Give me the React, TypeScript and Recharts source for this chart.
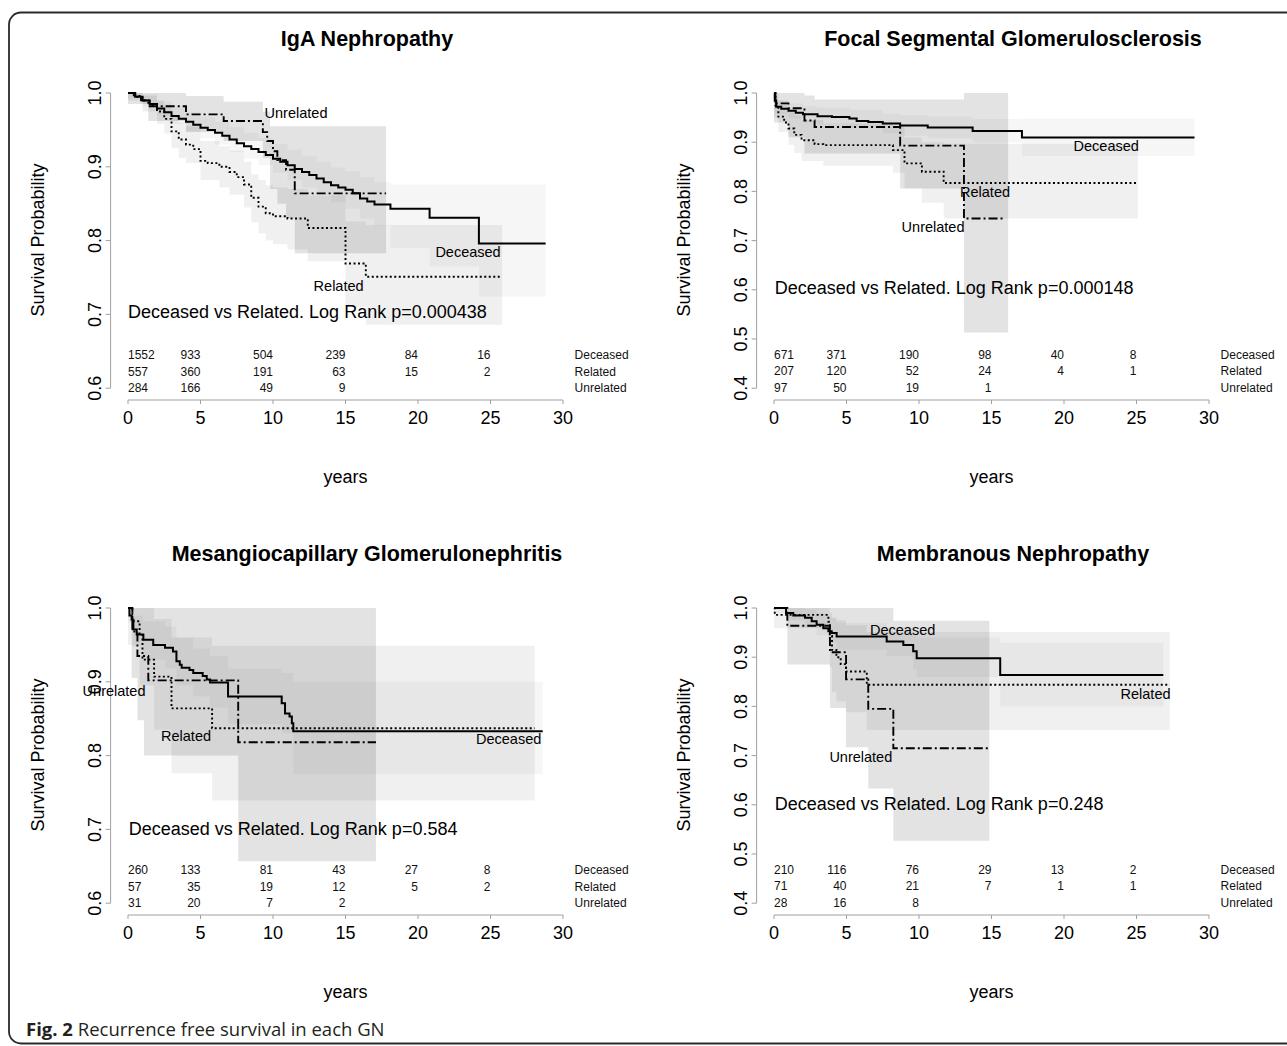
import React from 'react';
import { ComposedChart, Line, Area, XAxis, YAxis, ReferenceLine, ReferenceDot } from 'recharts';

const FONT = '"Liberation Sans", Arial, Helvetica, sans-serif';
const CAPTION_FONT = '"Open Sans", "Noto Sans", sans-serif';

// ---------- shared axis / table values ----------
const yearTicks = [0, 5, 10, 15, 20, 25, 30];
const riskTimes = [0, 5, 10, 15, 20, 25];
const groupNames = ['Deceased', 'Related', 'Unrelated'];
const yTicksNarrow = [0.6, 0.7, 0.8, 0.9, 1.0];
const yTicksWide = [0.4, 0.5, 0.6, 0.7, 0.8, 0.9, 1.0];
const yDomainNarrow: [number, number] = [0.584, 1.016];
const yDomainWide: [number, number] = [0.376, 1.024];
const rowYNarrow = [0.645, 0.6226, 0.6003];
const rowYWide = [0.4675, 0.434, 0.4004];

type Pt = [number, number];
type Bd = [number, number, number];

// ---------- IgA Nephropathy ----------
const igaDeceased: Pt[] = [
  [0, 1.0], [0.5, 0.995], [1, 0.99], [1.5, 0.985], [2, 0.979], [2.5, 0.974], [3, 0.969], [3.5, 0.965],
  [4, 0.961], [4.5, 0.957], [5, 0.953], [5.5, 0.95], [6, 0.946], [6.5, 0.942], [7, 0.937], [7.5, 0.932],
  [8, 0.928], [8.5, 0.924], [9, 0.92], [9.5, 0.916], [10, 0.911], [10.5, 0.907], [11, 0.902], [11.5, 0.897],
  [12, 0.893], [12.5, 0.889], [13, 0.884], [13.5, 0.879], [14, 0.875], [14.5, 0.872], [15, 0.869],
  [15.5, 0.864], [16, 0.857], [16.5, 0.853], [17, 0.849], [18.1, 0.843], [20.8, 0.831], [24.2, 0.796], [28.8, 0.796],
];
const igaRelated: Pt[] = [
  [0, 1.0], [0.5, 0.996], [1, 0.99], [1.5, 0.983], [2, 0.975], [2.5, 0.965], [3, 0.948], [3.5, 0.937],
  [4, 0.93], [4.5, 0.924], [5, 0.908], [5.5, 0.905], [6.3, 0.9], [7, 0.893], [7.5, 0.886], [8, 0.876],
  [8.5, 0.858], [9, 0.846], [9.5, 0.837], [10, 0.833], [11, 0.83], [12.4, 0.817], [15.0, 0.769], [16.4, 0.751], [25.8, 0.751],
];
const igaUnrelated: Pt[] = [
  [0, 1.0], [0.4, 0.995], [0.9, 0.99], [1.4, 0.982], [4.0, 0.971], [6.6, 0.962], [9.3, 0.947], [9.6, 0.935],
  [10.0, 0.921], [10.3, 0.909], [10.9, 0.896], [11.5, 0.864], [17.8, 0.864],
];
const igaDeceasedBand: Bd[] = [
  [0, 0.993, 1.0], [1, 0.982, 0.996], [2, 0.97, 0.989], [3, 0.958, 0.981], [4, 0.948, 0.974], [5, 0.939, 0.967],
  [6, 0.93, 0.961], [7, 0.92, 0.954], [8, 0.911, 0.946], [9, 0.902, 0.939], [10, 0.892, 0.931], [11, 0.882, 0.923],
  [12, 0.872, 0.915], [13, 0.862, 0.907], [14, 0.852, 0.899], [15, 0.843, 0.894], [16, 0.83, 0.886],
  [17, 0.82, 0.879], [18.1, 0.79, 0.876], [20.8, 0.765, 0.876], [24.2, 0.724, 0.876], [28.8, 0.724, 0.876],
];
const igaRelatedBand: Bd[] = [
  [0, 0.99, 1.0], [1, 0.975, 0.998], [2, 0.958, 0.99], [2.5, 0.945, 0.984], [3, 0.925, 0.968], [3.5, 0.912, 0.96],
  [4, 0.905, 0.955], [5, 0.882, 0.935], [6.3, 0.872, 0.928], [7, 0.862, 0.922], [8, 0.845, 0.907], [8.5, 0.825, 0.89],
  [9, 0.81, 0.882], [9.5, 0.8, 0.875], [10, 0.795, 0.872], [11, 0.788, 0.87], [12.4, 0.772, 0.861],
  [15.0, 0.71, 0.826], [16.4, 0.686, 0.821], [25.8, 0.686, 0.821],
];
const igaUnrelatedBand: Bd[] = [
  [0, 0.985, 1.0], [1.4, 0.962, 1.0], [4.0, 0.947, 0.996], [6.6, 0.935, 0.988], [9.3, 0.912, 0.975],
  [9.8, 0.87, 0.955], [10.3, 0.85, 0.955], [10.9, 0.83, 0.955], [11.5, 0.783, 0.955], [17.8, 0.783, 0.955],
];
const igaRiskDeceased = [1552, 933, 504, 239, 84, 16];
const igaRiskRelated = [557, 360, 191, 63, 15, 2];
const igaRiskUnrelated = [284, 166, 49, 9];

// ---------- Focal Segmental Glomerulosclerosis ----------
const fsgsDeceased: Pt[] = [
  [0, 1.0], [0.05, 0.985], [0.15, 0.972], [0.5, 0.968], [1, 0.964], [1.5, 0.96], [2, 0.957], [3, 0.953],
  [4, 0.951], [5.2, 0.948], [5.7, 0.943], [6.5, 0.941], [7.5, 0.938], [8.7, 0.934], [10.6, 0.93],
  [13.7, 0.923], [17.1, 0.9095], [29.0, 0.9095],
];
const fsgsRelated: Pt[] = [
  [0, 1.0], [0.1, 0.975], [0.3, 0.952], [0.7, 0.94], [1.0, 0.928], [1.4, 0.915], [1.9, 0.904], [2.8, 0.896],
  [3.4, 0.894], [8.2, 0.884], [9.0, 0.857], [10.2, 0.84], [11.7, 0.817], [25.1, 0.817],
];
const fsgsUnrelated: Pt[] = [
  [0, 1.0], [0.1, 0.979], [1.0, 0.969], [2.1, 0.944], [2.8, 0.931], [8.7, 0.893], [13.1, 0.745], [15.95, 0.745],
];
const fsgsDeceasedBand: Bd[] = [
  [0, 0.96, 1.0], [0.15, 0.958, 0.985], [1, 0.948, 0.979], [2, 0.94, 0.973], [3, 0.936, 0.97], [5.2, 0.93, 0.966],
  [7.5, 0.918, 0.958], [8.7, 0.913, 0.955], [10.6, 0.908, 0.952], [13.7, 0.9, 0.947], [17.1, 0.872, 0.948], [29.0, 0.872, 0.948],
];
const fsgsRelatedBand: Bd[] = [
  [0, 0.95, 1.0], [0.3, 0.92, 0.985], [1.0, 0.895, 0.965], [1.4, 0.878, 0.955], [1.9, 0.862, 0.945],
  [3.4, 0.852, 0.938], [8.2, 0.838, 0.933], [9.0, 0.806, 0.91], [10.2, 0.777, 0.9], [11.7, 0.745, 0.897], [25.1, 0.745, 0.897],
];
const fsgsUnrelatedBand: Bd[] = [
  [0, 0.94, 1.0], [1.0, 0.91, 1.0], [2.1, 0.877, 0.995], [2.8, 0.877, 0.987], [8.7, 0.806, 0.987],
  [13.1, 0.513, 1.0], [16.15, 0.513, 1.0],
];
const fsgsRiskDeceased = [671, 371, 190, 98, 40, 8];
const fsgsRiskRelated = [207, 120, 52, 24, 4, 1];
const fsgsRiskUnrelated = [97, 50, 19, 1];

// ---------- Mesangiocapillary Glomerulonephritis ----------
const mpgnDeceased: Pt[] = [
  [0, 1.0], [0.1, 0.99], [0.25, 0.984], [0.37, 0.971], [0.6, 0.964], [1.06, 0.957], [1.74, 0.95], [2.55, 0.946],
  [3.1, 0.941], [3.34, 0.928], [3.57, 0.923], [3.7, 0.919], [4.24, 0.916], [4.5, 0.912], [5.15, 0.908],
  [5.43, 0.903], [5.66, 0.899], [6.9, 0.88], [10.6, 0.871], [10.83, 0.857], [11.14, 0.853], [11.3, 0.844],
  [11.4, 0.833], [28.6, 0.833],
];
const mpgnRelated: Pt[] = [
  [0, 1.0], [0.3, 0.982], [0.8, 0.965], [1.0, 0.93], [1.8, 0.907], [3.0, 0.864], [5.8, 0.837], [28.05, 0.837],
];
const mpgnUnrelated: Pt[] = [
  [0, 1.0], [0.3, 0.968], [0.65, 0.935], [1.4, 0.902], [7.6, 0.818], [17.1, 0.818],
];
const mpgnDeceasedBand: Bd[] = [
  [0, 0.98, 1.0], [0.37, 0.95, 0.99], [1.06, 0.93, 0.982], [2.55, 0.918, 0.975], [3.34, 0.895, 0.96],
  [4.5, 0.88, 0.945], [5.66, 0.865, 0.935], [6.9, 0.842, 0.918], [10.6, 0.83, 0.912], [11.4, 0.775, 0.9], [28.6, 0.775, 0.9],
];
const mpgnRelatedBand: Bd[] = [
  [0, 0.95, 1.0], [0.3, 0.948, 1.0], [0.8, 0.895, 1.0], [1.8, 0.835, 0.985], [3.0, 0.776, 0.96],
  [5.8, 0.739, 0.949], [28.05, 0.739, 0.949],
];
const mpgnUnrelatedBand: Bd[] = [
  [0.25, 0.905, 1.0], [0.65, 0.848, 1.0], [1.1, 0.8, 1.0], [7.6, 0.657, 1.0], [17.1, 0.657, 1.0],
];
const mpgnRiskDeceased = [260, 133, 81, 43, 27, 8];
const mpgnRiskRelated = [57, 35, 19, 12, 5, 2];
const mpgnRiskUnrelated = [31, 20, 7, 2];

// ---------- Membranous Nephropathy ----------
const mnDeceased: Pt[] = [
  [0, 1.0], [0.83, 0.99], [1.33, 0.985], [2.14, 0.98], [2.6, 0.973], [2.94, 0.966], [3.4, 0.959], [3.75, 0.953],
  [3.98, 0.949], [4.32, 0.942], [7.77, 0.932], [8.92, 0.925], [9.6, 0.912], [9.84, 0.898], [15.6, 0.864], [26.85, 0.864],
];
const mnRelated: Pt[] = [
  [0, 1.0], [0.05, 0.986], [3.75, 0.972], [3.85, 0.943], [4.0, 0.915], [4.3, 0.9], [4.6, 0.886], [4.97, 0.871],
  [6.4, 0.844], [27.3, 0.844],
];
const mnUnrelated: Pt[] = [
  [0, 1.0], [0.92, 0.964], [3.86, 0.91], [4.97, 0.855], [6.5, 0.795], [8.23, 0.715], [14.9, 0.715],
];
const mnDeceasedBand: Bd[] = [
  [0, 0.99, 1.0], [0.83, 0.975, 1.0], [2.14, 0.96, 0.997], [2.94, 0.945, 0.99], [3.75, 0.93, 0.98],
  [4.32, 0.915, 0.97], [7.77, 0.902, 0.962], [9.6, 0.875, 0.948], [9.84, 0.86, 0.94], [15.6, 0.8, 0.93], [26.85, 0.8, 0.93],
];
const mnRelatedBand: Bd[] = [
  [0, 0.959, 1.0], [3.75, 0.935, 1.0], [3.85, 0.88, 0.99], [4.0, 0.83, 0.98], [4.3, 0.81, 0.975],
  [4.97, 0.788, 0.965], [6.4, 0.752, 0.951], [27.3, 0.752, 0.951],
];
const mnUnrelatedBand: Bd[] = [
  [0.92, 0.885, 1.0], [3.86, 0.797, 1.0], [4.97, 0.717, 1.0], [6.5, 0.633, 1.0], [8.23, 0.527, 0.974], [14.85, 0.527, 0.974],
];
const mnRiskDeceased = [210, 116, 76, 29, 13, 2];
const mnRiskRelated = [71, 40, 21, 7, 1, 1];
const mnRiskUnrelated = [28, 16, 8];

// ---------- helpers ----------
const pts = (a: Pt[]) => a.map(([t, s]) => ({ t, s }));
const band = (a: Bd[]) => a.map(([t, lo, hi]) => ({ t, r: [lo, hi] }));

type CurveLabel = { text: string; t: number; s: number };
type PanelCfg = {
  key: string; left: number; top: number; title: string; pText: string; pPos: [number, number];
  yDomain: [number, number]; yTicks: number[]; rowY: number[];
  deceased: Pt[]; related: Pt[]; unrelated: Pt[];
  dBand: Bd[]; rBand: Bd[]; uBand: Bd[];
  risk: number[][]; labels: CurveLabel[];
};

const panels: PanelCfg[] = [
  {
    key: 'iga', left: 0, top: 0, title: 'IgA Nephropathy',
    pText: 'Deceased vs Related. Log Rank p=0.000438', pPos: [0, 0.703],
    yDomain: yDomainNarrow, yTicks: yTicksNarrow, rowY: rowYNarrow,
    deceased: igaDeceased, related: igaRelated, unrelated: igaUnrelated,
    dBand: igaDeceasedBand, rBand: igaRelatedBand, uBand: igaUnrelatedBand,
    risk: [igaRiskDeceased, igaRiskRelated, igaRiskUnrelated],
    labels: [
      { text: 'Unrelated', t: 9.42, s: 0.973 },
      { text: 'Deceased', t: 21.2, s: 0.785 },
      { text: 'Related', t: 12.8, s: 0.739 },
    ],
  },
  {
    key: 'fsgs', left: 646, top: 0, title: 'Focal Segmental Glomerulosclerosis',
    pText: 'Deceased vs Related. Log Rank p=0.000148', pPos: [0.05, 0.603],
    yDomain: yDomainWide, yTicks: yTicksWide, rowY: rowYWide,
    deceased: fsgsDeceased, related: fsgsRelated, unrelated: fsgsUnrelated,
    dBand: fsgsDeceasedBand, rBand: fsgsRelatedBand, uBand: fsgsUnrelatedBand,
    risk: [fsgsRiskDeceased, fsgsRiskRelated, fsgsRiskUnrelated],
    labels: [
      { text: 'Deceased', t: 20.66, s: 0.892 },
      { text: 'Related', t: 12.83, s: 0.799 },
      { text: 'Unrelated', t: 8.8, s: 0.728 },
    ],
  },
  {
    key: 'mpgn', left: 0, top: 515, title: 'Mesangiocapillary Glomerulonephritis',
    pText: 'Deceased vs Related. Log Rank p=0.584', pPos: [0.05, 0.701],
    yDomain: yDomainNarrow, yTicks: yTicksNarrow, rowY: rowYNarrow,
    deceased: mpgnDeceased, related: mpgnRelated, unrelated: mpgnUnrelated,
    dBand: mpgnDeceasedBand, rBand: mpgnRelatedBand, uBand: mpgnUnrelatedBand,
    risk: [mpgnRiskDeceased, mpgnRiskRelated, mpgnRiskUnrelated],
    labels: [
      { text: 'Unrelated', t: -3.13, s: 0.888 },
      { text: 'Related', t: 2.28, s: 0.827 },
      { text: 'Deceased', t: 24.0, s: 0.822 },
    ],
  },
  {
    key: 'mn', left: 646, top: 515, title: 'Membranous Nephropathy',
    pText: 'Deceased vs Related. Log Rank p=0.248', pPos: [0.05, 0.601],
    yDomain: yDomainWide, yTicks: yTicksWide, rowY: rowYWide,
    deceased: mnDeceased, related: mnRelated, unrelated: mnUnrelated,
    dBand: mnDeceasedBand, rBand: mnRelatedBand, uBand: mnUnrelatedBand,
    risk: [mnRiskDeceased, mnRiskRelated, mnRiskUnrelated],
    labels: [
      { text: 'Deceased', t: 6.62, s: 0.956 },
      { text: 'Related', t: 23.9, s: 0.825 },
      { text: 'Unrelated', t: 3.82, s: 0.697 },
    ],
  },
];

function TextAt(props: any) {
  const { viewBox, text, anchor = 'start', size = 12, fill = '#000' } = props;
  if (!viewBox) return null;
  const x = viewBox.x + (viewBox.width || 0) / 2;
  const y = viewBox.y + (viewBox.height || 0) / 2;
  return (
    <text x={x} y={y} textAnchor={anchor} dominantBaseline="central" fontSize={size} fontFamily={FONT} fill={fill}>
      {text}
    </text>
  );
}

const renderYTick = (props: any) => {
  const { x, y, payload } = props;
  return (
    <text x={x} y={y} transform={`rotate(-90 ${x} ${y})`} textAnchor="middle" fontSize={18} fontFamily={FONT} fill="#000">
      {Number(payload.value).toFixed(1)}
    </text>
  );
};

const textDot = (key: string, t: number, s: number, text: string, anchor: string, size: number, fill = '#000') => (
  <ReferenceDot
    key={key}
    x={t}
    y={s}
    r={0}
    fill="none"
    stroke="none"
    ifOverflow="visible"
    label={<TextAt text={text} anchor={anchor} size={size} fill={fill} />}
  />
);

const AXIS_GREY = '#a0a0a0';

function Panel({ cfg }: { cfg: PanelCfg }) {
  const yLo = cfg.yDomain[0];
  const tableDots: React.ReactNode[] = [];
  cfg.risk.forEach((row, ri) => {
    row.forEach((n, i) => {
      tableDots.push(textDot(`r${ri}-${i}`, riskTimes[i], cfg.rowY[ri], String(n), i === 0 ? 'start' : 'end', 12, '#111'));
    });
    tableDots.push(textDot(`g${ri}`, 30.8, cfg.rowY[ri], groupNames[ri], 'start', 12, '#111'));
  });
  return (
    <div style={{ position: 'absolute', left: cfg.left, top: cfg.top, width: 641, height: 515 }}>
      <ComposedChart width={641} height={515} margin={{ top: 81.2, right: 60.6, bottom: 85, left: 80.6 }}>
        <XAxis
          type="number"
          dataKey="t"
          domain={[-1.2, 31.2]}
          ticks={yearTicks}
          interval={0}
          height={30}
          axisLine={false}
          tickLine={{ stroke: AXIS_GREY }}
          tickSize={4}
          tickMargin={7.6}
          tick={{ fontSize: 18, fill: '#000', fontFamily: FONT }}
        />
        <YAxis
          type="number"
          domain={cfg.yDomain}
          ticks={cfg.yTicks}
          interval={0}
          width={30}
          axisLine={false}
          tickLine={{ stroke: AXIS_GREY }}
          tickSize={5}
          tickMargin={5}
          tick={renderYTick}
        />
        <Area data={band(cfg.dBand)} dataKey="r" type="stepAfter" stroke="none" fill="#000" fillOpacity={0.035} isAnimationActive={false} />
        <Area data={band(cfg.rBand)} dataKey="r" type="stepAfter" stroke="none" fill="#000" fillOpacity={0.06} isAnimationActive={false} />
        <Area data={band(cfg.uBand)} dataKey="r" type="stepAfter" stroke="none" fill="#000" fillOpacity={0.11} isAnimationActive={false} />
        <ReferenceLine segment={[{ x: 0, y: yLo }, { x: 30, y: yLo }]} stroke={AXIS_GREY} strokeWidth={1} ifOverflow="visible" />
        <ReferenceLine segment={[{ x: -1.2, y: cfg.yTicks[0] }, { x: -1.2, y: 1.0 }]} stroke={AXIS_GREY} strokeWidth={1} ifOverflow="visible" />
        <Line data={pts(cfg.unrelated)} dataKey="s" type="stepAfter" stroke="#000" strokeWidth={1.9} strokeDasharray="9 3 2 3" dot={false} isAnimationActive={false} />
        <Line data={pts(cfg.related)} dataKey="s" type="stepAfter" stroke="#000" strokeWidth={1.9} strokeDasharray="2 2.5" dot={false} isAnimationActive={false} />
        <Line data={pts(cfg.deceased)} dataKey="s" type="stepAfter" stroke="#000" strokeWidth={2} dot={false} isAnimationActive={false} />
        {cfg.labels.map((l, i) => textDot(`l${i}`, l.t, l.s, l.text, 'start', 14.5))}
        {textDot('p', cfg.pPos[0], cfg.pPos[1], cfg.pText, 'start', 18)}
        {tableDots}
      </ComposedChart>
    </div>
  );
}

export default function App() {
  return (
    <div style={{ position: 'absolute', left: 0, top: 0, width: 1287, height: 1046, background: '#fff', overflow: 'hidden' }}>
      {panels.map((p) => (
        <Panel key={p.key} cfg={p} />
      ))}
      <svg width={1287} height={1046} style={{ position: 'absolute', left: 0, top: 0, pointerEvents: 'none' }}>
        <rect x={9} y={12.5} width={1320} height={1031} rx={12} ry={12} fill="none" stroke="#2a2a2a" strokeWidth={1.8} />
        {panels.map((p) => (
          <g key={`o-${p.key}`} fontFamily={FONT} fill="#000">
            <text x={p.left + 367} y={p.top + 39} textAnchor="middle" dominantBaseline="central" fontSize={21.5} fontWeight="bold">
              {p.title}
            </text>
            <text
              x={p.left + 37.6}
              y={p.top + 240}
              transform={`rotate(-90 ${p.left + 37.6} ${p.top + 240})`}
              textAnchor="middle"
              dominantBaseline="central"
              fontSize={18}
            >
              Survival Probability
            </text>
            <text x={p.left + 345.6} y={p.top + 477} textAnchor="middle" dominantBaseline="central" fontSize={18}>
              years
            </text>
          </g>
        ))}
        <text x={26} y={1036} fontFamily={CAPTION_FONT} fontSize={18.5} fill="#231f20">
          <tspan fontWeight="bold">Fig. 2</tspan> Recurrence free survival in each GN
        </text>
      </svg>
    </div>
  );
}
